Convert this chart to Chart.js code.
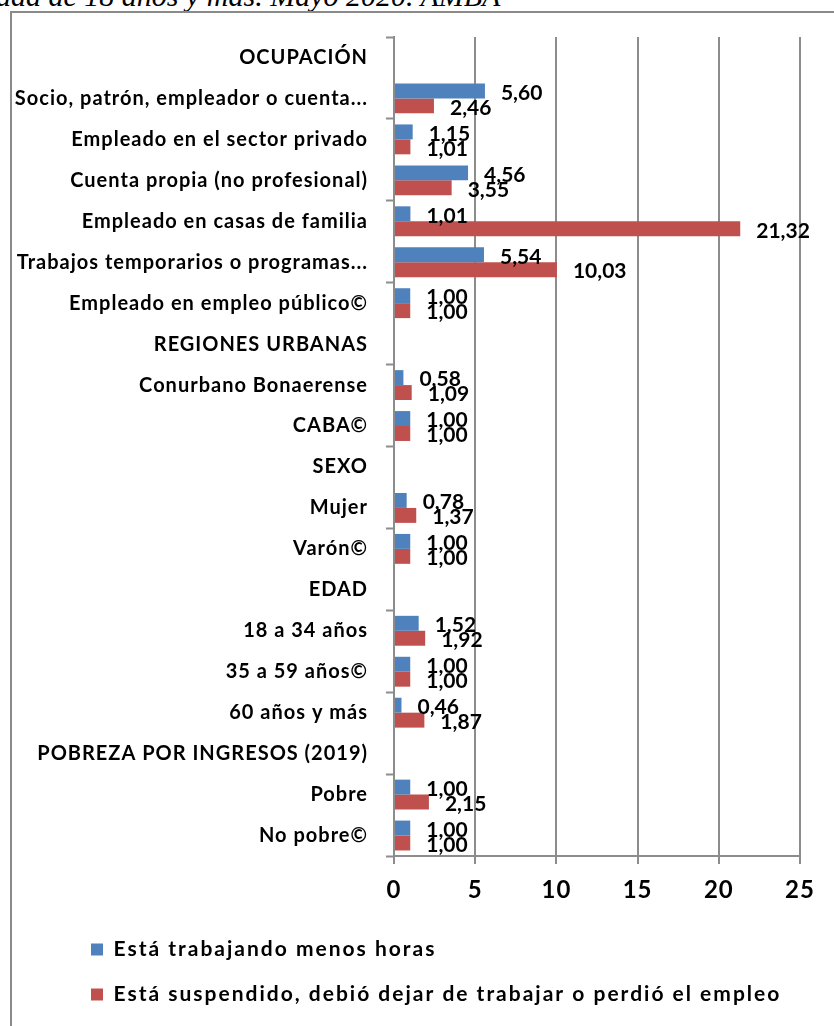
<!DOCTYPE html>
<html>
<head>
<meta charset="utf-8">
<script src="https://cdn.jsdelivr.net/npm/chart.js@4"></script>
<style>
  body { margin: 0; background: #fff; }
  #wrap { position: relative; width: 834px; height: 1026px; overflow: hidden; }
  #titulo { position: absolute; left: -4px; top: -19px; font: italic 30px/30px "Liberation Serif", serif; color: #000; white-space: nowrap; }
  #marco { position: absolute; left: 10px; top: 11px; width: 900px; height: 1100px; border-left: 2px solid #8a8a8a; border-top: 2px solid #8a8a8a; }
  #grafico { position: absolute; left: 0; top: 0; }
</style>
</head>
<body>
<div id="wrap">
  <div id="titulo">ada de 18 años y más. Mayo 2020. AMBA</div>
  <div id="marco"></div>
  <canvas id="grafico" width="834" height="1026"></canvas>
</div>
<script>
var categorias = [
  'OCUPACIÓN',
  'Socio, patrón, empleador o cuenta...',
  'Empleado en el sector privado',
  'Cuenta propia (no profesional)',
  'Empleado en casas de familia',
  'Trabajos temporarios o programas...',
  'Empleado en empleo público©',
  'REGIONES URBANAS',
  'Conurbano Bonaerense',
  'CABA©',
  'SEXO',
  'Mujer',
  'Varón©',
  'EDAD',
  '18 a 34 años',
  '35 a 59 años©',
  '60 años y más',
  'POBREZA POR INGRESOS (2019)',
  'Pobre',
  'No pobre©'
];
var menosHoras = [null, 5.60, 1.15, 4.56, 1.01, 5.54, 1.00, null, 0.58, 1.00, null, 0.78, 1.00, null, 1.52, 1.00, 0.46, null, 1.00, 1.00];
var suspendido = [null, 2.46, 1.01, 3.55, 21.32, 10.03, 1.00, null, 1.09, 1.00, null, 1.37, 1.00, null, 1.92, 1.00, 1.87, null, 2.15, 1.00];
var ticksX = [0, 5, 10, 15, 20, 25];

var gris = '#8c8c8c';
var fuente = 'Lato, "Open Sans", sans-serif';

// espaciado de letras y sangria de la leyenda
var espaciado = {
  id: 'espaciado',
  beforeDraw: function (chart) {
    chart.ctx.letterSpacing = '1px';
    var lg = chart.legend;
    if (lg && !lg._abierta) {
      var dibujar = lg.draw;
      lg.draw = function () {
        var c = this.ctx;
        this.left = 67;
        c.letterSpacing = '2px';
        dibujar.apply(this, arguments);
        c.letterSpacing = '1px';
      };
      lg._abierta = true;
    }
  }
};

// etiquetas de valor a la derecha de cada barra
var etiquetas = {
  id: 'etiquetas',
  afterDatasetsDraw: function (chart) {
    var ctx = chart.ctx;
    ctx.save();
    ctx.letterSpacing = '0px';
    ctx.font = 'bold 21px ' + fuente;
    ctx.fillStyle = '#000';
    ctx.textAlign = 'left';
    ctx.textBaseline = 'middle';
    chart.data.datasets.forEach(function (ds, i) {
      var meta = chart.getDatasetMeta(i);
      meta.data.forEach(function (bar, j) {
        var v = ds.data[j];
        if (v === null) return;
        ctx.fillText(v.toFixed(2).replace('.', ','), bar.x + 16, bar.y + 2);
      });
    });
    ctx.restore();
  }
};

var ctx = document.getElementById('grafico').getContext('2d');
var grafico = new Chart(ctx, {
  type: 'bar',
  data: {
    labels: categorias,
    datasets: [
      {
        label: 'Está trabajando menos horas',
        data: menosHoras,
        backgroundColor: '#4f81bd',
        barPercentage: 1,
        categoryPercentage: 0.73
      },
      {
        label: 'Está suspendido, debió dejar de trabajar o perdió el empleo',
        data: suspendido,
        backgroundColor: '#c0504d',
        barPercentage: 1,
        categoryPercentage: 0.73
      }
    ]
  },
  options: {
    indexAxis: 'y',
    responsive: false,
    animation: false,
    layout: { padding: { left: 12, right: 34, top: 37, bottom: 11 } },
    plugins: {
      tooltip: { enabled: false },
      legend: {
        position: 'bottom',
        align: 'start',
        labels: {
          boxWidth: 12,
          boxHeight: 12,
          padding: 24,
          color: '#000',
          font: { family: fuente, size: 21, weight: 'bold' }
        }
      }
    },
    scales: {
      x: {
        min: 0,
        max: 25,
        afterFit: function (s) { s.height = 59; },
        afterBuildTicks: function (s) { s.ticks = ticksX.map(function (v) { return { value: v }; }); },
        ticks: {
          color: '#000',
          padding: 12,
          font: { family: fuente, size: 24, weight: 'bold' }
        },
        grid: { color: gris, lineWidth: 2, tickLength: 8, tickColor: gris },
        border: { color: gris, width: 2 }
      },
      y: {
        afterFit: function (s) { s.width = 382; },
        ticks: {
          autoSkip: false,
          color: '#000',
          padding: 18,
          font: { family: fuente, size: 20, weight: 'bold' }
        },
        grid: {
          drawOnChartArea: false,
          tickLength: 8,
          tickWidth: 2,
          tickColor: function (c) {
            return (c.index === undefined || c.index % 2 === 0) ? gris : 'rgba(0,0,0,0)';
          }
        },
        border: { color: gris, width: 2 }
      }
    }
  },
  plugins: [espaciado, etiquetas]
});
</script>
</body>
</html>
